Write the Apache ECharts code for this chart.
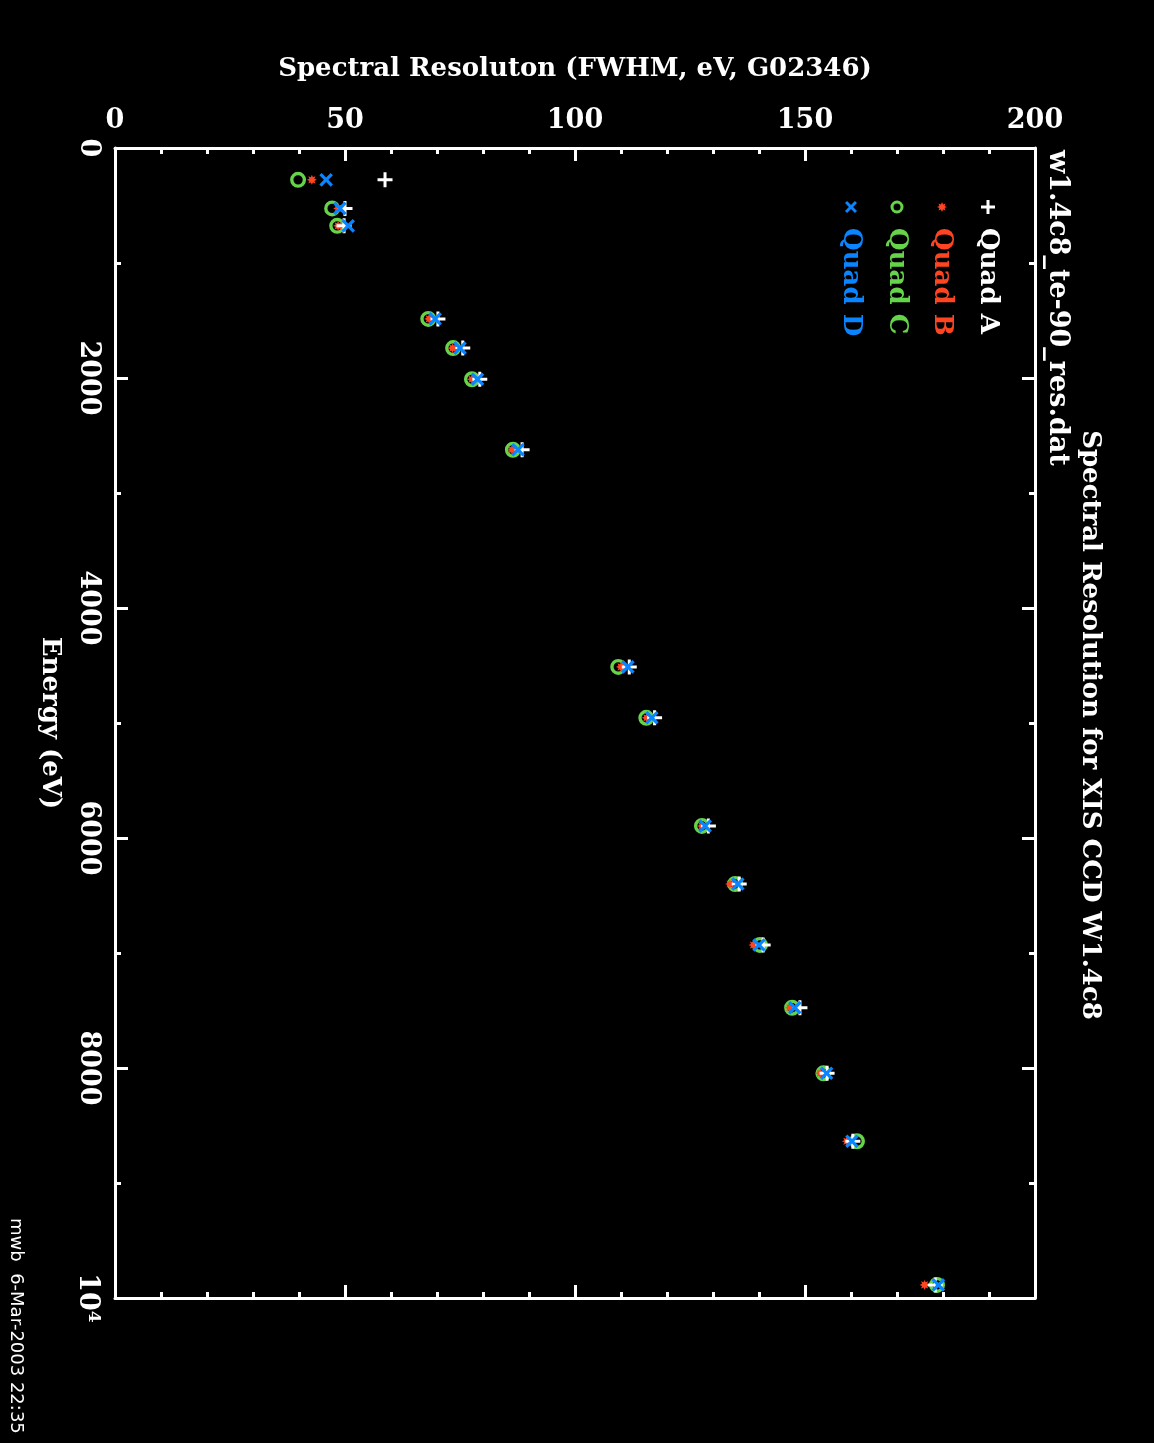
<!DOCTYPE html>
<html>
<head>
<meta charset="utf-8">
<script src="https://cdn.jsdelivr.net/npm/echarts@6/dist/echarts.min.js"></script>
<style>
html,body{margin:0;padding:0;background:#000;}
#main{width:1154px;height:1443px;background:#000;}
</style>
</head>
<body>
<div id="main"></div>
<script>
// Energy of each calibration line (eV)
var energy = [277, 525, 677, 1486, 1740, 2011, 2624, 4512, 4955, 5895, 6400, 6930, 7476, 8046, 8637, 9886];
// FWHM (eV) per quadrant
var quadA = [58.7, 50.0, 49.8, 70.2, 75.6, 79.3, 88.5, 111.8, 117.3, 129.0, 135.7, 140.9, 148.9, 154.8, 160.4, 178.3];
var quadB = [42.8, 48.5, 48.5, 68.3, 73.4, 77.6, 86.3, 110.0, 115.6, 127.6, 133.7, 138.8, 146.7, 153.3, 159.1, 176.0];
var quadC = [39.8, 47.2, 48.3, 68.1, 73.5, 77.6, 86.5, 109.4, 115.5, 127.6, 134.8, 140.2, 147.2, 154.0, 161.3, 178.7];
var quadD = [45.9, 48.9, 50.7, 69.6, 75.0, 78.8, 87.6, 111.5, 116.7, 128.3, 135.4, 140.0, 147.8, 154.7, 160.2, 179.0];
var seriesNames = ['Quad A', 'Quad B', 'Quad C', 'Quad D'];
var xTickLabels = ['0', '50', '100', '150', '200'];
var yTickLabels = {0: '0', 2000: '2000', 4000: '4000', 6000: '6000', 8000: '8000', 10000: '10{sup|4}'};

var colors = {A: '#ffffff', B: '#ff4422', C: '#66d44a', D: '#0a84ff'};
var PLUS = 'path://M4,0H6V4H10V6H6V10H4V6H0V4H4Z';
var RING = 'path://M0,-10A10,10 0 1,1 0,10A10,10 0 1,1 0,-10ZM0,-5.8A5.8,5.8 0 1,0 0,5.8A5.8,5.8 0 1,0 0,-5.8Z';
function starPts(cx, cy, R, r) {
  var p = [], n = 8;
  for (var i = 0; i < 2 * n; i++) {
    var rad = (i % 2 === 0) ? R : r;
    var a = Math.PI * i / n;
    p.push([cx + rad * Math.cos(a), cy + rad * Math.sin(a)]);
  }
  return p;
}
var STAR = 'path://' + starPts(0, 0, 1, 0.55).map(function (q, i) {
  return (i ? 'L' : 'M') + q[0].toFixed(3) + ',' + q[1].toFixed(3);
}).join('') + 'Z';
function plusPts(cx, cy, h, w) {
  return [[cx - w, cy - h], [cx + w, cy - h], [cx + w, cy - w], [cx + h, cy - w], [cx + h, cy + w], [cx + w, cy + w],
          [cx + w, cy + h], [cx - w, cy + h], [cx - w, cy + w], [cx - h, cy + w], [cx - h, cy - w], [cx - w, cy - w]];
}

function pairs(arr) { return arr.map(function (v, i) { return [v, energy[i]]; }); }

var FONT = 'DejaVu Serif';
var chart = echarts.init(document.getElementById('main'));

var tickStyle = {color: '#fff', width: 3};
var axisLineStyle = {show: true, onZero: false, lineStyle: {color: '#fff', width: 3}};

var option = {
  backgroundColor: '#000',
  animation: false,
  grid: {left: 115, top: 148, width: 920, height: 1150, containLabel: false},
  xAxis: [{
    type: 'value', position: 'top', min: 0, max: 200, interval: 50,
    name: 'Spectral Resoluton (FWHM, eV, G02346)', nameLocation: 'middle', nameGap: 66,
    nameTextStyle: {color: '#fff', fontFamily: FONT, fontWeight: 'bold', fontSize: 26},
    axisLine: axisLineStyle,
    axisTick: {show: true, inside: true, length: 13, lineStyle: tickStyle},
    minorTick: {show: true, splitNumber: 5, length: 6, lineStyle: tickStyle},
    axisLabel: {color: '#fff', fontFamily: FONT, fontWeight: 'bold', fontSize: 27, margin: 14,
      formatter: function (v) { return xTickLabels[Math.round(v / 50)]; }},
    splitLine: {show: false}
  }, {
    type: 'value', position: 'bottom', min: 0, max: 200, interval: 50,
    axisLine: axisLineStyle,
    axisTick: {show: true, inside: true, length: 13, lineStyle: tickStyle},
    minorTick: {show: true, splitNumber: 5, length: 6, lineStyle: tickStyle},
    axisLabel: {show: false}, splitLine: {show: false}
  }],
  yAxis: [{
    type: 'value', position: 'left', inverse: true, min: 0, max: 10000, interval: 2000,
    name: 'Energy (eV)', nameLocation: 'middle', nameGap: 52, nameRotate: -90,
    nameTextStyle: {color: '#fff', fontFamily: FONT, fontWeight: 'bold', fontSize: 26},
    axisLine: axisLineStyle,
    axisTick: {show: true, inside: true, length: 13, lineStyle: tickStyle},
    minorTick: {show: true, splitNumber: 2, length: 6, lineStyle: tickStyle},
    axisLabel: {color: '#fff', fontFamily: FONT, fontWeight: 'bold', fontSize: 27, margin: 13,
      rotate: -90, align: 'center', verticalAlign: 'top',
      formatter: function (v) { return yTickLabels[v]; },
      rich: {sup: {color: '#fff', fontFamily: FONT, fontWeight: 'bold', fontSize: 17, verticalAlign: 'top', padding: [0, 0, 12, 0]}}},
    splitLine: {show: false}
  }, {
    type: 'value', position: 'right', inverse: true, min: 0, max: 10000, interval: 2000,
    axisLine: axisLineStyle,
    axisTick: {show: true, inside: true, length: 13, lineStyle: tickStyle},
    minorTick: {show: true, splitNumber: 2, length: 6, lineStyle: tickStyle},
    axisLabel: {show: false}, splitLine: {show: false}
  }],
  series: [
    {name: seriesNames[2], type: 'scatter', data: pairs(quadC), symbol: RING, symbolSize: 16,
      itemStyle: {color: colors.C, opacity: 1}},
    {name: seriesNames[1], type: 'scatter', data: pairs(quadB), symbol: STAR, symbolSize: 10,
      itemStyle: {color: colors.B, opacity: 1}},
    {name: seriesNames[0], type: 'scatter', data: pairs(quadA), symbol: PLUS, symbolSize: 15,
      itemStyle: {color: colors.A, opacity: 1}},
    {name: seriesNames[3], type: 'scatter', data: pairs(quadD), symbol: PLUS, symbolSize: 16, symbolRotate: 45,
      itemStyle: {color: colors.D, opacity: 1}}
  ],
  graphic: []
};

// legend (rotated, top-right inside plot)
var legendX = [988, 942, 897, 851];
var legendCols = [colors.A, colors.B, colors.C, colors.D];
legendX.forEach(function (x, i) {
  var sym;
  if (i === 0) sym = {type: 'polygon', shape: {points: plusPts(x, 207, 7, 1.5)}, style: {fill: legendCols[i]}};
  else if (i === 1) sym = {type: 'polygon', shape: {points: starPts(x, 207, 5, 2.8)}, style: {fill: legendCols[i]}};
  else if (i === 2) sym = {type: 'circle', shape: {cx: x, cy: 207, r: 5}, style: {fill: 'none', stroke: legendCols[i], lineWidth: 3}};
  else sym = {type: 'polygon', shape: {points: plusPts(x, 207, 7, 1.5)}, rotation: Math.PI / 4, originX: x, originY: 207, style: {fill: legendCols[i]}};
  option.graphic.push(sym);
  option.graphic.push({type: 'text', x: x, y: 228, rotation: -Math.PI / 2,
    style: {text: seriesNames[i], fill: legendCols[i], font: 'bold 26px "DejaVu Serif"', textAlign: 'left', textVerticalAlign: 'middle'}});
});

option.graphic.push({type: 'text', x: 1090, y: 725, rotation: -Math.PI / 2,
  style: {text: 'Spectral Resolution for XIS CCD W1.4c8', fill: '#fff', font: 'bold 26px "DejaVu Serif"', textAlign: 'center', textVerticalAlign: 'middle'}});
option.graphic.push({type: 'text', x: 1057, y: 150, rotation: -Math.PI / 2,
  style: {text: 'w1.4c8_te-90_res.dat', fill: '#fff', font: 'bold 27px "DejaVu Serif"', textAlign: 'left', textVerticalAlign: 'middle'}});
option.graphic.push({type: 'text', x: 16, y: 1218, rotation: -Math.PI / 2,
  style: {text: 'mwb  6-Mar-2003 22:35', fill: '#fff', font: '18px "DejaVu Sans"', textAlign: 'left', textVerticalAlign: 'middle'}});

chart.setOption(option);
</script>
</body>
</html>
